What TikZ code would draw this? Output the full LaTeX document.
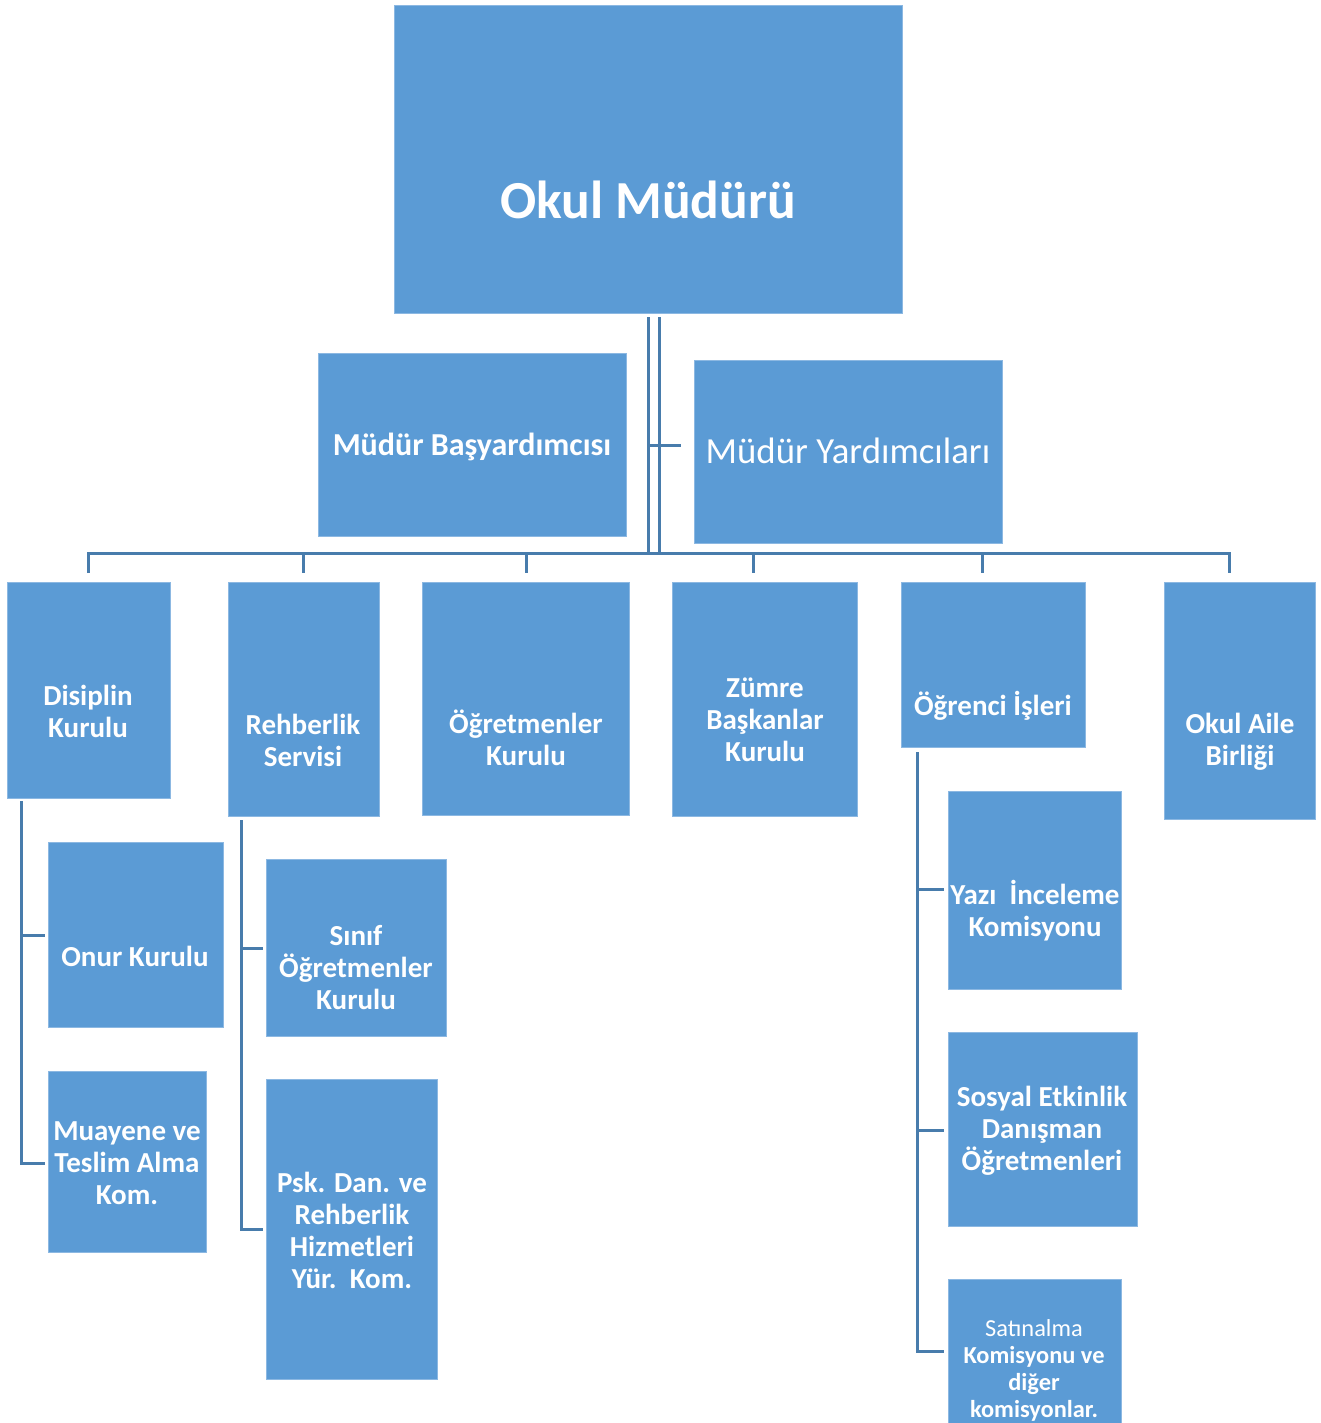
\documentclass[tikz,border=0pt]{standalone}
\usepackage{fontspec}
\setmainfont{Carlito}
\definecolor{boxfill}{HTML}{5B9BD5}
\definecolor{boxedge}{HTML}{8CB8E2}
\definecolor{linec}{HTML}{487CAC}
\newcommand\orgbox[5]{\node[orgbx,minimum width={(#4-#2)*1pt},minimum height={(#5-#3)*1pt}] (#1) at ({(#2+#4)/2},{(#3+#5)/2}) {};}
\begin{document}
\begin{tikzpicture}[x=1pt,y=-1pt,
  orgbx/.style={rectangle,fill=boxfill,draw=boxedge,line width=0.8pt,inner sep=0pt},
  lbl/.style={text=white,font=\bfseries\fontsize{29}{32}\selectfont,align=center,inner sep=0pt},
  conn/.style={draw=linec,line width=3pt,line cap=butt}]
\useasboundingbox (0,0) rectangle (1320,1423);
% boxes
\orgbox{okul}{394}{5}{902}{313}
\orgbox{bas}{318}{353}{626}{536}
\orgbox{yard}{694}{360}{1002}{543}
\orgbox{disc}{7}{582}{170}{798}
\orgbox{rehb}{228}{582}{379}{816}
\orgbox{ogrk}{422}{582}{629}{815}
\orgbox{zumre}{672}{582}{857}{816}
\orgbox{ogri}{901}{582}{1085}{747}
\orgbox{aile}{1164}{582}{1315}{819}
\orgbox{onur}{48}{842}{223}{1027}
\orgbox{muay}{48}{1071}{206}{1252}
\orgbox{sinif}{266}{859}{446}{1036}
\orgbox{psk}{266}{1079}{437}{1379}
\orgbox{yazi}{948}{791}{1121}{989}
\orgbox{sosyal}{948}{1032}{1137}{1226}
\orgbox{satin}{948}{1279}{1121}{1440}
% texts
\node[lbl,font=\bfseries\fontsize{53.5}{60}\selectfont] (t-okul) at (648,200) {Okul Müdürü};
\node[lbl,font=\bfseries\fontsize{32}{36}\selectfont] (t-bas) at (472,447) {Müdür Başyardımcısı};
\node[lbl,font=\fontsize{36.8}{40}\selectfont] (t-yard) at (848,451) {Müdür Yardımcıları};
\node[lbl] (t-disc) at (88,711) {Disiplin\\Kurulu};
\node[lbl] (t-rehb) at (303,740) {Rehberlik\\Servisi};
\node[lbl] (t-ogrk) at (526,738) {Öğretmenler\\Kurulu};
\node[lbl] (t-zumre) at (765,720) {Zümre\\Başkanlar\\Kurulu};
\node[lbl] (t-ogri) at (993,706) {Öğrenci İşleri};
\node[lbl] (t-aile) at (1240,742) {Okul Aile\\Birliği};
\node[lbl] (t-onur) at (135,956) {Onur Kurulu};
\node[lbl] (t-muay) at (127,1163) {Muayene ve\\Teslim Alma\\Kom.};
\node[lbl] (t-sinif) at (356,968) {Sınıf\\Öğretmenler\\Kurulu};
\node[lbl] (t-psk) at (352,1230) {Psk. Dan. ve\\Rehberlik\\Hizmetleri\\Yür.\ \ Kom.};
\node[lbl] (t-yazi) at (1035,911) {Yazı\ \ İnceleme\\Komisyonu};
\node[lbl] (t-sosyal) at (1042,1131) {Sosyal Etkinlik\\Danışman\\Öğretmenleri};
\node[lbl,font=\bfseries\fontsize{24.4}{27}\selectfont] (t-satin) at (1034,1370) {{\mdseries Satınalma}\\Komisyonu ve\\diğer\\komisyonlar.};
% connector coordinates
\coordinate (vA) at (648,317);
\coordinate (vB) at (659,317);
\coordinate (busA) at (648,553);
\coordinate (busB) at (659,553);
\coordinate (busL) at (88,553);
\coordinate (busR) at (1229,553);
\coordinate (yj) at (648,445);
\coordinate (yend) at (681,445);
\coordinate (d1) at (88,573);
\coordinate (d2) at (303,573);
\coordinate (d3) at (526,573);
\coordinate (d4) at (753,573);
\coordinate (d5) at (982,573);
\coordinate (d6) at (1229,573);
% main connectors
\draw[conn] (vA) -- (busA);
\draw[conn] (vB) -- (busB);
\draw[conn] (yj) -- (yend);
\draw[conn] (d1) -- (busL) -- (busR) -- (d6);
\draw[conn] (d2 |- busL) -- (d2);
\draw[conn] (d3 |- busL) -- (d3);
\draw[conn] (d4 |- busL) -- (d4);
\draw[conn] (d5 |- busL) -- (d5);
% Disiplin subtree
\coordinate (dt) at (21,801);
\draw[conn] (dt) -- (21,1163) -- ([xshift=-3pt]muay.west |- 0,1163);
\draw[conn] (21,935) -- ([xshift=-3pt]onur.west |- 0,935);
% Rehberlik subtree
\coordinate (rt) at (241,820);
\draw[conn] (rt) -- (241,1229) -- ([xshift=-3pt]psk.west |- 0,1229);
\draw[conn] (241,948) -- ([xshift=-3pt]sinif.west |- 0,948);
% Ogrenci subtree
\coordinate (ot) at (917,752);
\draw[conn] (ot) -- (917,1351) -- ([xshift=-4pt]satin.west |- 0,1351);
\draw[conn] (917,889) -- ([xshift=-4pt]yazi.west |- 0,889);
\draw[conn] (917,1130) -- ([xshift=-4pt]sosyal.west |- 0,1130);
\end{tikzpicture}
\end{document}
